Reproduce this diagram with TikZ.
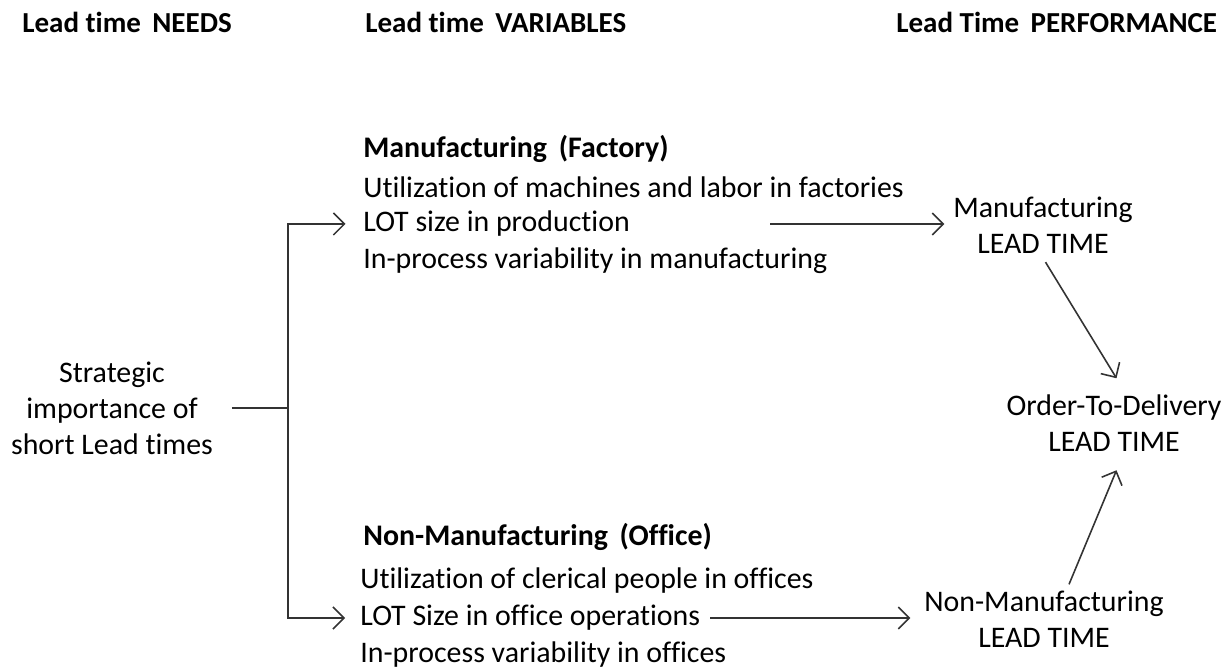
\documentclass[tikz,border=0pt]{standalone}
\usepackage{fontspec}
\setmainfont[Ligatures=NoCommon]{Carlito}
\usetikzlibrary{arrows.meta}
\tikzset{
    heading/.style={anchor=west, inner sep=0pt, font=\fontsize{16.5}{19}\selectfont\bfseries},
    entry/.style={anchor=west, inner sep=0pt, font=\fontsize{17}{20}\selectfont},
    group/.style={anchor=west, inner sep=0pt, font=\fontsize{17}{20}\selectfont\bfseries},
    result/.style={align=center, inner sep=2pt, font=\fontsize{17}{20.5}\selectfont},
    link/.style={draw=black!80, line width=0.9pt, -{Straight Barb[length=2.2mm,width=4.4mm]}}
}
\begin{document}
\begin{tikzpicture}
    \useasboundingbox (0,0) rectangle (24.62,13.42);
    \node [heading] (needs) at (0.44,12.98) {Lead time\, NEEDS};
    \node [heading] (vars) at (7.30,12.98) {Lead time\, VARIABLES};
    \node [heading] (perf) at (17.92,12.98) {Lead Time\, PERFORMANCE};
    \node [result] (strat) at (2.24,5.26) {Strategic\\importance of\\short Lead times};
    \node [group] (mfg) at (7.26,10.44) {Manufacturing\, (Factory)};
    \node [entry] (mfg1) at (7.26,9.68) {Utilization of machines and labor in factories};
    \node [entry] (mfg2) at (7.26,8.94) {LOT size in production};
    \node [entry] (mfg3) at (7.26,8.20) {In-process variability in manufacturing};
    \node [group] (off) at (7.26,2.68) {Non-Manufacturing\, (Office)};
    \node [entry] (off1) at (7.20,1.80) {Utilization of clerical people in offices};
    \node [entry] (off2) at (7.20,1.06) {LOT Size in office operations};
    \node [entry] (off3) at (7.20,0.32) {In-process variability in offices};
    \node [result] (mfglt) at (20.86,8.92) {Manufacturing\\LEAD TIME};
    \node [result] (offlt) at (20.88,1.04) {Non-Manufacturing\\LEAD TIME};
    \node [result] (otd) at (22.28,4.96) {Order-To-Delivery\\LEAD TIME};
    \coordinate (split) at (5.76,5.26);
    \draw [draw=black!80, line width=0.9pt] (strat.east) ++(0.3,0) -- (split);
    \draw [link] (split) |- ([xshift=-0.35cm]mfg2.west);
    \draw [link] (split) |- ([xshift=-0.3cm]off2.west);
    \draw [link] ([xshift=2.8cm]mfg2.east) -- ([xshift=-0.1cm]mfglt.west |- mfg2);
    \draw [link] ([xshift=0.2cm]off2.east) -- ([xshift=-0.2cm]offlt.west |- off2);
    \draw [link] ([shift={(0.05,-0.1)}]mfglt.south) -- ([shift={(0.05,0.25)}]otd.north);
    \draw [link] ([shift={(0.5,0.05)}]offlt.north) -- ([shift={(0.05,-0.3)}]otd.south);
\end{tikzpicture}
\end{document}
